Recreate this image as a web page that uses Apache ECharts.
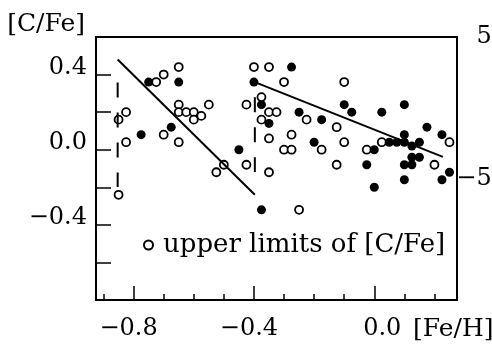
<!DOCTYPE html>
<html>
<head>
<meta charset="utf-8">
<script src="https://cdn.jsdelivr.net/npm/echarts@6/dist/echarts.min.js"></script>
<style>
html,body{margin:0;padding:0;background:#fff;}
#chart{width:492px;height:349px;}
</style>
</head>
<body>
<div id="chart"></div>
<script>
// ---- data ----
const openPoints = [
  [-0.65,0.44],[-0.70,0.40],[-0.725,0.36],[-0.40,0.44],[-0.35,0.44],
  [-0.825,0.20],[-0.85,0.16],[-0.65,0.24],[-0.65,0.20],[-0.625,0.20],[-0.60,0.20],[-0.60,0.16],[-0.575,0.18],[-0.55,0.24],
  [-0.70,0.08],[-0.65,0.04],[-0.825,0.04],
  [-0.425,0.24],[-0.375,0.28],[-0.35,0.20],[-0.375,0.16],[-0.35,0.06],
  [-0.50,-0.08],[-0.525,-0.12],[-0.425,-0.08],[-0.35,-0.12],[-0.85,-0.24],
  [-0.30,0.36],[-0.10,0.36],[-0.325,0.20],[-0.225,0.16],[-0.275,0.08],[-0.30,0.00],[-0.275,0.00],
  [-0.175,0.00],[-0.125,0.12],[-0.10,0.04],[-0.025,0.00],[0.025,0.04],[-0.125,-0.08],[0.20,-0.08],[0.25,0.04],[-0.25,-0.32]
];
const filledPoints = [
  [-0.75,0.36],[-0.65,0.36],[-0.40,0.36],[-0.675,0.12],[-0.775,0.08],[-0.375,0.24],[-0.35,0.14],[-0.45,0.00],[-0.375,-0.32],
  [-0.275,0.44],[-0.25,0.20],[-0.175,0.16],[-0.20,0.04],[-0.10,0.24],[-0.075,0.20],[0.025,0.20],[0.10,0.24],
  [0.00,0.00],[-0.025,-0.08],[0.00,-0.20],[0.05,0.04],[0.075,0.04],[0.10,0.08],[0.10,0.04],[0.125,0.02],[0.15,0.04],
  [0.125,-0.04],[0.15,-0.04],[0.10,-0.08],[0.125,-0.08],[0.10,-0.16],[0.175,0.12],[0.225,0.08],[0.225,-0.16],[0.25,-0.12]
];
const fitMetalPoor = [[-0.853,0.48],[-0.397,-0.24]];
const fitMetalRich = [[-0.397,0.36],[0.228,-0.038]];
const dashedLeft = [[-0.853,0.358],[-0.853,-0.199]];
const dashedMid = [[-0.397,0.279],[-0.397,-0.119]];

const xMinorTicks = [-0.9,-0.7,-0.6,-0.5,-0.3,-0.2,-0.1,0.1,0.2];
const xMajorTicks = [-0.8,-0.4,0.0];
const xTickLabels = ['−0.8','−0.4','0.0'];
const yTicks = [-0.6,-0.4,-0.2,0.0,0.2,0.4];
const yLabelValues = [0.4,0.0,-0.4];
const yTickLabels = ['0.4','0.0','−0.4'];
const rightLabelValues = [50,-50];
const rightTickLabels = ['50','−50'];

const FONT = 'DejaVu Serif';
const labelOf = (vals, labels) => v => {
  const i = vals.findIndex(t => Math.abs(t - v) < 1e-6);
  return i >= 0 ? labels[i] : '';
};

const chart = echarts.init(document.getElementById('chart'), null, {renderer:'canvas'});
const xFmt = labelOf(xMajorTicks, xTickLabels);
const yFmt = labelOf(yLabelValues, yTickLabels);
chart.setOption({
  animation: false,
  backgroundColor: '#fff',
  grid: {left:96, right:35, top:37, bottom:49, show:true, borderColor:'#000', borderWidth:2,
         backgroundColor:'transparent', containLabel:false, outerBoundsMode:'none'},
  legend: {
    left: 138, top: 227,
    data: [{name:'upper limits of [C/Fe]', icon:'circle'}],
    itemWidth: 9, itemHeight: 9,
    textStyle: {fontFamily: FONT, fontSize: 26, color:'#000', padding:[0,0,0,5]},
    selectedMode: false
  },
  xAxis: [{
    type:'value', min:-0.925, max:0.275, position:'bottom',
    axisLine:{show:true, onZero:false, lineStyle:{color:'#000', width:2}},
    axisTick:{show:true, inside:true, length:6, customValues: xMinorTicks, lineStyle:{color:'#000', width:1.5}},
    axisLabel:{show:true, customValues: xMajorTicks, margin:17, fontFamily:FONT, fontSize:24, color:'#000',
      formatter: v => { const s = xFmt(v); return v < 0 ? '{n|' + s + '}' : '{z|' + s + '}'; },
      rich:{ n:{fontFamily:FONT, fontSize:24, color:'#000', padding:[0,10,0,0]}, z:{fontFamily:FONT, fontSize:24, color:'#000', padding:[0,0,0,16]} }
    },
    splitLine:{show:false},
    name:'[Fe/H]', nameLocation:'end', nameGap:-44,
    nameTextStyle:{fontFamily:FONT, fontSize:25, color:'#000', align:'left', verticalAlign:'top', lineHeight:59}
  },{
    type:'value', min:-0.925, max:0.275, position:'bottom',
    axisLine:{show:false, onZero:false},
    axisTick:{show:true, inside:true, length:14, customValues: xMajorTicks, lineStyle:{color:'#000', width:1.5}},
    axisLabel:{show:false}, splitLine:{show:false}
  }],
  yAxis: [{
    type:'value', min:-0.8, max:0.6, position:'left',
    axisLine:{show:true, onZero:false, lineStyle:{color:'#000', width:2}},
    axisTick:{show:true, inside:true, length:15, customValues: yTicks, lineStyle:{color:'#000', width:1.5}},
    axisLabel:{show:true, customValues: yLabelValues, margin:9, fontFamily:FONT, fontSize:24, color:'#000',
      formatter: v => '{a|' + yFmt(v) + '}',
      rich:{ a:{fontFamily:FONT, fontSize:24, color:'#000', padding:[0,0,14,0]} }},
    splitLine:{show:false},
    name:'[C/Fe]', nameLocation:'end', nameGap:13,
    nameTextStyle:{fontFamily:FONT, fontSize:25, color:'#000', align:'right', verticalAlign:'middle', padding:[0,11,0,0]}
  },{
    type:'value', min:-136, max:50, position:'right',
    axisLine:{show:false, onZero:false}, axisTick:{show:false}, splitLine:{show:false},
    axisLabel:{show:true, customValues: rightLabelValues, margin:50, align:'right', fontFamily:FONT, fontSize:24, color:'#000',
      formatter: labelOf(rightLabelValues, rightTickLabels)}
  }],
  series: [
    {name:'upper limits of [C/Fe]', type:'scatter', data: openPoints, symbol:'circle', symbolSize:8,
     itemStyle:{color:'#fff', borderColor:'#000', borderWidth:1.8, opacity:1}, z:3},
    {name:'measured', type:'scatter', data: filledPoints, symbol:'circle', symbolSize:9,
     itemStyle:{color:'#000', opacity:1}, z:4},
    {name:'fit1', type:'line', data: fitMetalPoor, symbol:'none', lineStyle:{color:'#000', width:2}, z:5},
    {name:'fit2', type:'line', data: fitMetalRich, symbol:'none', lineStyle:{color:'#000', width:2}, z:5},
    {name:'dash1', type:'line', data: dashedLeft, symbol:'none', lineStyle:{color:'#000', width:2, type:[15,15]}, z:6},
    {name:'dash2', type:'line', data: dashedMid, symbol:'none', lineStyle:{color:'#000', width:2, type:[15,15]}, z:6}
  ]
});
</script>
</body>
</html>
